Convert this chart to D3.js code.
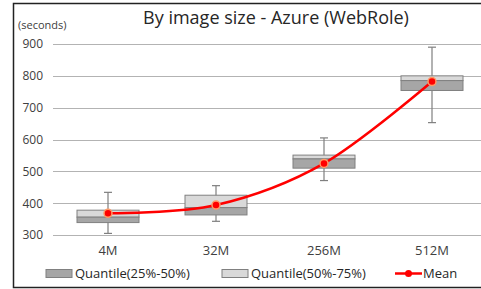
<!DOCTYPE html>
<html>
<head>
<meta charset="utf-8">
<script src="https://cdn.jsdelivr.net/npm/d3@7"></script>
<style>
  body { margin: 0; background: #fff; }
  svg { font-family: "Open Sans", "Noto Sans", sans-serif; }
</style>
</head>
<body>
<div id="chart"></div>
<script>
// values
const sizes = ["4M", "32M", "256M", "512M"];
const whiskerLow = [305, 343, 471, 653];
const q25 = [339, 363, 510, 754];
const q50 = [356, 386, 539, 785];
const q75 = [378, 425, 551, 800];
const whiskerHigh = [434, 455, 605, 890];
const means = [368, 394, 525, 782];
const yTicks = [300, 400, 500, 600, 700, 800, 900];

const width = 481, height = 289;

const svg = d3.select("#chart").append("svg")
    .attr("width", width)
    .attr("height", height);

// chart frame
svg.append("rect")
    .attr("x", 13.5).attr("y", 3.5)
    .attr("width", 500).attr("height", 284)
    .attr("fill", "#fff")
    .attr("stroke", "#222")
    .attr("stroke-width", 1.5);

const x = d3.scaleBand()
    .domain(sizes)
    .range([54, 486]);

const y = d3.scaleLinear()
    .domain([300, 900])
    .range([235, 44]);

// gridlines
svg.append("g")
  .selectAll("line")
  .data(yTicks)
  .join("line")
    .attr("x1", 53).attr("x2", 486)
    .attr("y1", d => Math.round(y(d)) + 0.5)
    .attr("y2", d => Math.round(y(d)) + 0.5)
    .attr("stroke", "#b3b3b3");

const yAxis = svg.append("g")
    .attr("transform", "translate(46,0)")
    .call(d3.axisLeft(y).tickValues(yTicks).tickSize(0).tickPadding(3));
yAxis.select(".domain").remove();
yAxis.selectAll("text")
    .attr("font-family", "Open Sans, sans-serif")
    .attr("font-size", 12)
    .attr("fill", "#404040");

const xAxis = svg.append("g")
    .attr("transform", "translate(0,246)")
    .call(d3.axisBottom(x).tickSize(0).tickPadding(0));
xAxis.select(".domain").remove();
xAxis.selectAll("text")
    .attr("font-family", "Open Sans, sans-serif")
    .attr("font-size", 13)
    .attr("fill", "#404040");

svg.append("text")
    .attr("x", 18).attr("y", 29)
    .attr("font-size", 11)
    .attr("fill", "#404040")
    .text("(seconds)");

svg.append("text")
    .attr("x", 276).attr("y", 24)
    .attr("text-anchor", "middle")
    .attr("font-size", 18)
    .attr("fill", "#262626")
    .text("By image size - Azure (WebRole)");

const boxW = 62;
const cx = i => x(sizes[i]) + x.bandwidth() / 2;

const boxes = svg.append("g");
sizes.forEach((s, i) => {
  const c = cx(i);
  // whisker
  boxes.append("line")
      .attr("x1", c).attr("x2", c)
      .attr("y1", y(whiskerLow[i])).attr("y2", y(whiskerHigh[i]))
      .attr("stroke", "#7f7f7f").attr("stroke-width", 1.2);
  [whiskerLow[i], whiskerHigh[i]].forEach(v => {
    boxes.append("line")
        .attr("x1", c - 4).attr("x2", c + 4)
        .attr("y1", y(v)).attr("y2", y(v))
        .attr("stroke", "#7f7f7f").attr("stroke-width", 1.2);
  });
  // upper half (50%-75%)
  boxes.append("rect")
      .attr("x", c - boxW / 2).attr("width", boxW)
      .attr("y", y(q75[i])).attr("height", y(q50[i]) - y(q75[i]))
      .attr("fill", "#d9d9d9").attr("stroke", "#808080");
  // lower half (25%-50%)
  boxes.append("rect")
      .attr("x", c - boxW / 2).attr("width", boxW)
      .attr("y", y(q50[i])).attr("height", y(q25[i]) - y(q50[i]))
      .attr("fill", "#a6a6a6").attr("stroke", "#808080");
});

// mean line
const line = d3.line()
    .x((d, i) => cx(i))
    .y(d => y(d))
    .curve(d3.curveCardinal.tension(0));

svg.append("path")
    .datum(means)
    .attr("fill", "none")
    .attr("stroke", "#ff0000")
    .attr("stroke-width", 2.5)
    .attr("d", line);

svg.append("g")
  .selectAll("circle")
  .data(means)
  .join("circle")
    .attr("cx", (d, i) => cx(i))
    .attr("cy", d => y(d))
    .attr("r", 4)
    .attr("fill", "#ff0000")
    .attr("stroke", "#ff9a66")
    .attr("stroke-width", 1.5);

// legend
const legend = svg.append("g").attr("font-size", 13).attr("fill", "#262626");
const legendItems = [
  {label: "Quantile(25%-50%)", fill: "#a6a6a6", x: 46},
  {label: "Quantile(50%-75%)", fill: "#d9d9d9", x: 222}
];
legendItems.forEach(d => {
  legend.append("rect")
      .attr("x", d.x).attr("y", 269.5)
      .attr("width", 26).attr("height", 8)
      .attr("fill", d.fill).attr("stroke", "#808080");
  legend.append("text")
      .attr("x", d.x + 29).attr("y", 278)
      .text(d.label);
});
legend.append("line")
    .attr("x1", 395).attr("x2", 422)
    .attr("y1", 273.5).attr("y2", 273.5)
    .attr("stroke", "#ff0000").attr("stroke-width", 2.5);
legend.append("circle")
    .attr("cx", 408.5).attr("cy", 273.5).attr("r", 3.5)
    .attr("fill", "#ff0000");
legend.append("text")
    .attr("x", 423).attr("y", 278)
    .text("Mean");
</script>
</body>
</html>
